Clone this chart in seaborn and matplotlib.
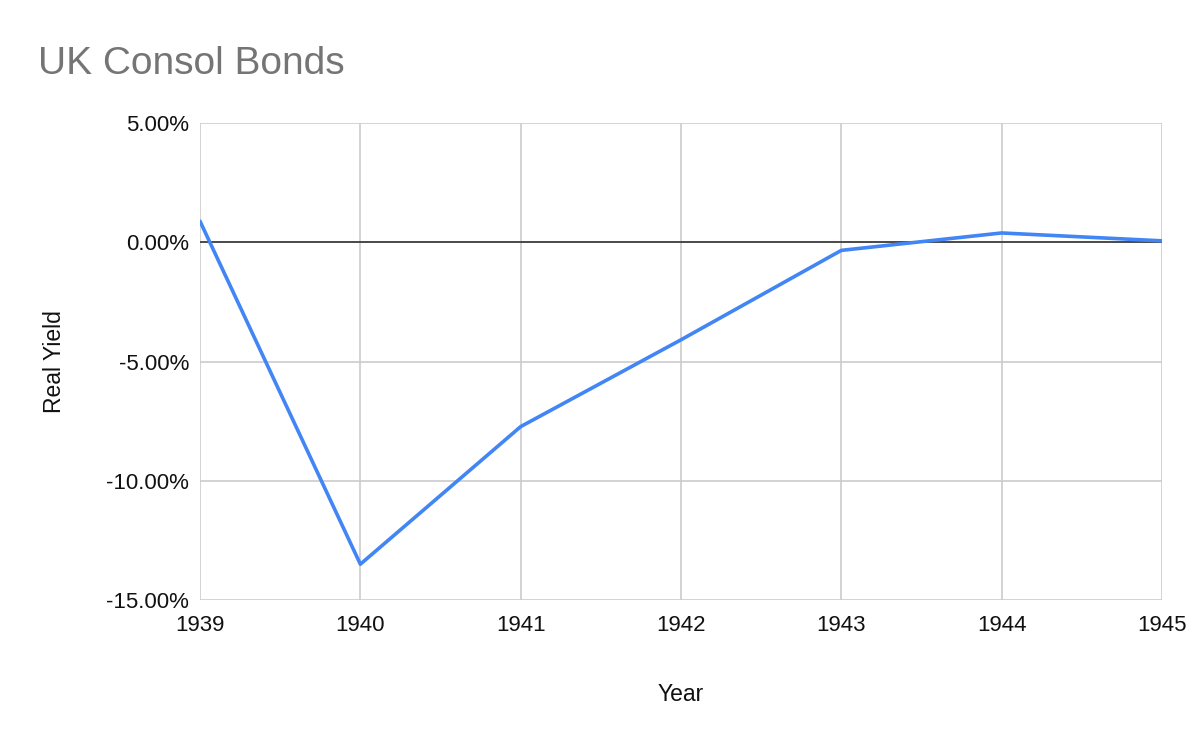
import pandas as pd
import matplotlib
matplotlib.use("Agg")
import matplotlib.pyplot as plt
import seaborn as sns
from matplotlib.ticker import FuncFormatter

# Data (real yield, percent)
years = [1939, 1940, 1941, 1942, 1943, 1944, 1945]
real_yield = [0.88, -13.5, -7.73, -4.09, -0.34, 0.39, 0.06]

df = pd.DataFrame({"Year": years, "Real Yield": real_yield})

sns.set_style("white")
plt.rcParams['font.family'] = ['Liberation Sans', 'DejaVu Sans']

fig = plt.figure(figsize=(12, 7.42), dpi=100)
ax = fig.add_axes([0.1667, 0.1914, 0.8016, 0.6428])

sns.lineplot(data=df, x="Year", y="Real Yield", color="#4285F4", linewidth=2.6, ax=ax, zorder=3)

ax.set_xlim(1939, 1945)
ax.set_ylim(-15, 5)
ax.set_xticks(years)
ax.set_yticks([-15, -10, -5, 0, 5])
ax.yaxis.set_major_formatter(FuncFormatter(lambda v, p: f"{v:.2f}%"))
ax.grid(True, color="#cccccc", linewidth=1.2)
ax.axhline(0, color="#333333", linewidth=1.2, zorder=2)
for s in ax.spines.values():
    s.set_visible(False)
ax.tick_params(axis="both", length=0, labelsize=16, colors="#111111")
ax.tick_params(axis="y", pad=8)
ax.tick_params(axis="x", pad=11)

ax.set_xlabel("Year", fontsize=16.5, color="#111111", labelpad=34)
ax.set_ylabel("Real Yield", fontsize=16.5, color="#111111", labelpad=29)
fig.text(0.032, 0.914, "UK Consol Bonds", fontsize=28, color="#757575", ha="left", va="center")

plt.savefig("out.png", dpi=100)
